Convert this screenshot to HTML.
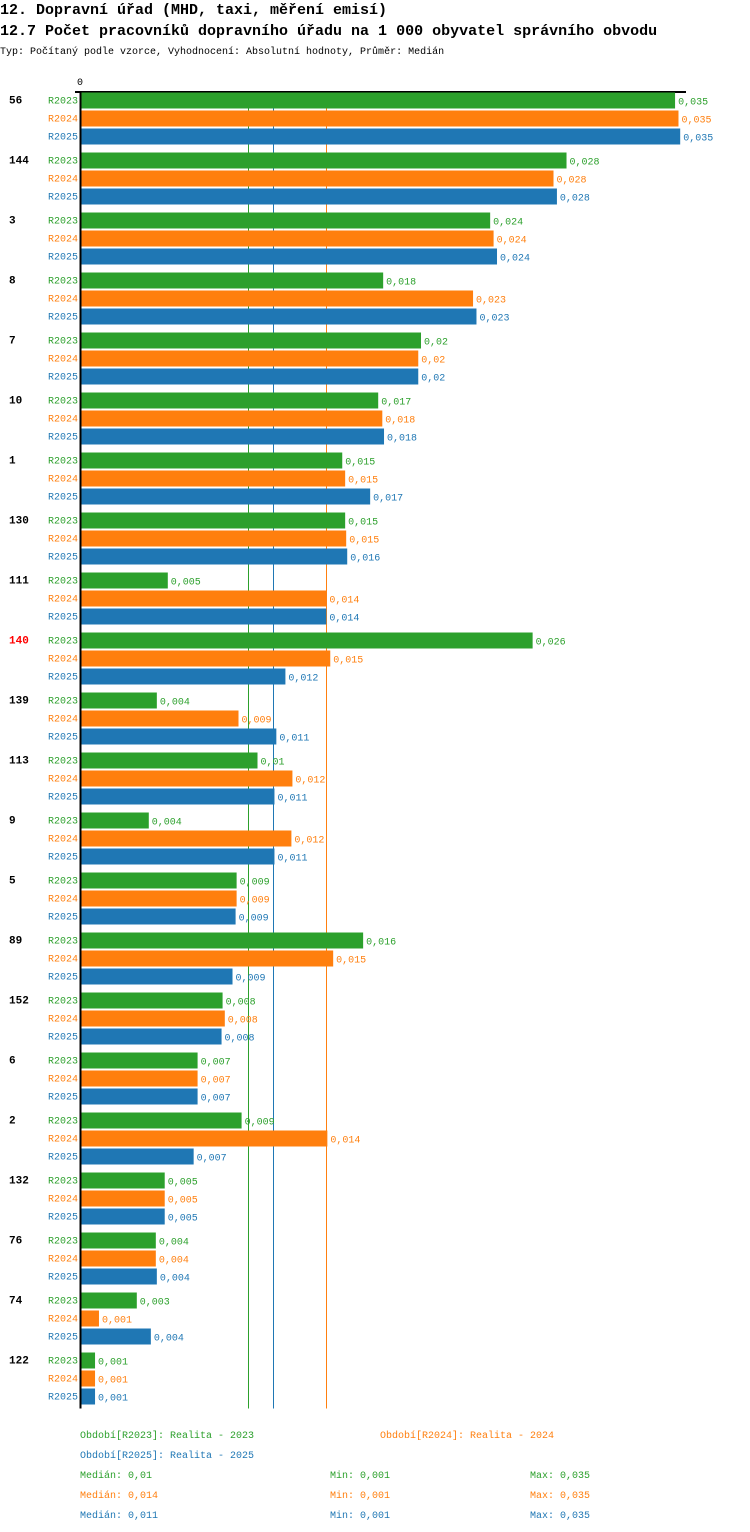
<!DOCTYPE html>
<html><head><meta charset="utf-8"><style>
body{margin:0;background:#fff;}
svg{display:block;font-family:"Liberation Mono",monospace;}
</style></head><body>
<svg id="c" width="750" height="1532" viewBox="0 0 750 1532">
<text x="0" y="14" font-size="15" font-weight="bold" fill="#000">12. Dopravní úřad (MHD, taxi, měření emisí)</text>
<text x="0" y="35" font-size="15" font-weight="bold" fill="#000">12.7 Počet pracovníků dopravního úřadu na 1 000 obyvatel správního obvodu</text>
<text x="0" y="54" font-size="10" fill="#000">Typ: Počítaný podle vzorce, Vyhodnocení: Absolutní hodnoty, Průměr: Medián</text>
<g id="marks"></g>
<g id="legend"></g>
</svg>
<script>
const categories=["56","144","3","8","7","10","1","130","111","140","139","113","9","5","89","152","6","2","132","76","74","122"];
const highlight=["140"];
const seriesNames=["R2023","R2024","R2025"];
const r2023=[0.0347,0.02836,0.0239,0.01765,0.01986,0.01736,0.01526,0.01543,0.00507,0.02638,0.00443,0.01031,0.00396,0.00909,0.01648,0.00827,0.00681,0.00938,0.00489,0.00437,0.00326,0.00082];
const r2024=[0.0349,0.0276,0.0241,0.0229,0.0197,0.0176,0.01543,0.01549,0.01433,0.01456,0.0092,0.01235,0.01229,0.00909,0.01473,0.0084,0.00681,0.01439,0.00489,0.00437,0.00105,0.00082];
const r2025=[0.035,0.0278,0.0243,0.0231,0.0197,0.0177,0.01689,0.01555,0.01433,0.01194,0.01141,0.0113,0.0113,0.00903,0.00885,0.00821,0.00681,0.00658,0.00489,0.00443,0.00408,0.00082];
const medians=[0.00973,0.01433,0.01124];
const medianLabels=["0,01","0,014","0,011"];
const minLabels=["0,001","0,001","0,001"];
const maxLabels=["0,035","0,035","0,035"];
const legendLabels=["Období[R2023]: Realita - 2023","Období[R2024]: Realita - 2024","Období[R2025]: Realita - 2025"];
const colors=["#2ca02c","#ff7f0e","#1f77b4"];
const series=[r2023,r2024,r2025];
const NS="http://www.w3.org/2000/svg";
const X0=81,SCALE=17120;
function x(v){return X0+v*SCALE;}
function y(i,s){return 92.5+i*60+s*18;}
function fmt(v){let s=(Math.round(v*1000)/1000).toFixed(3).replace(/0+$/,'').replace(/\.$/,'');return s.replace('.',',');}
function mk(tag,attrs,parent){const e=document.createElementNS(NS,tag);for(const k in attrs)e.setAttribute(k,attrs[k]);parent.appendChild(e);return e;}
const g=document.getElementById('marks');
const bottom=y(categories.length-1,2)+16+4;
medians.forEach((m,s)=>{
  const mx=Math.round(x(m))+0.5;
  let l=mk('line',{x1:mx,x2:mx,y1:92,y2:bottom,stroke:colors[s],'stroke-width':1},g);
  
  
});
let ax=mk('line',{x1:75,x2:686,y1:92,y2:92,stroke:'#000','stroke-width':2},g);


let zl=mk('text',{x:77,y:85,'font-size':10,fill:'#000'},g);zl.textContent='0';


categories.forEach((c,i)=>{
  let t=mk('text',{x:9,y:y(i,0)+11,'font-size':11,'font-weight':'bold',fill:highlight.includes(c)?'#ff0000':'#000'},g);
  t.textContent=c;
  
  
  series.forEach((arr,s)=>{
    let l=mk('text',{x:78,y:y(i,s)+11,'font-size':10,fill:colors[s],'text-anchor':'end'},g);
    l.textContent=seriesNames[s];
    
    
    let r=mk('rect',{x:X0,y:y(i,s),width:Math.max(0,x(arr[i])-X0),height:16,fill:colors[s]},g);
    
    
    let v=mk('text',{x:x(arr[i])+3,y:y(i,s)+12,'font-size':10,fill:colors[s]},g);
    v.textContent=fmt(arr[i]);
    
    
  });
});
let va=mk('line',{x1:80.5,x2:80.5,y1:91,y2:bottom,stroke:'#000','stroke-width':2},g);


const lg=document.getElementById('legend');
const lpos=[[80,1438],[380,1438],[80,1458]];
legendLabels.forEach((txt,s)=>{
  let t=mk('text',{x:lpos[s][0],y:lpos[s][1],'font-size':10,fill:colors[s]},lg);
  t.textContent=txt;
  
  
});
series.forEach((a,s)=>{
  const yy=1478+s*20;
  let t1=mk('text',{x:80,y:yy,'font-size':10,fill:colors[s]},lg);t1.textContent='Medián: '+medianLabels[s];
  
  
  let t2=mk('text',{x:330,y:yy,'font-size':10,fill:colors[s]},lg);t2.textContent='Min: '+minLabels[s];
  
  
  let t3=mk('text',{x:530,y:yy,'font-size':10,fill:colors[s]},lg);t3.textContent='Max: '+maxLabels[s];
  
  
});
</script>
</body></html>
